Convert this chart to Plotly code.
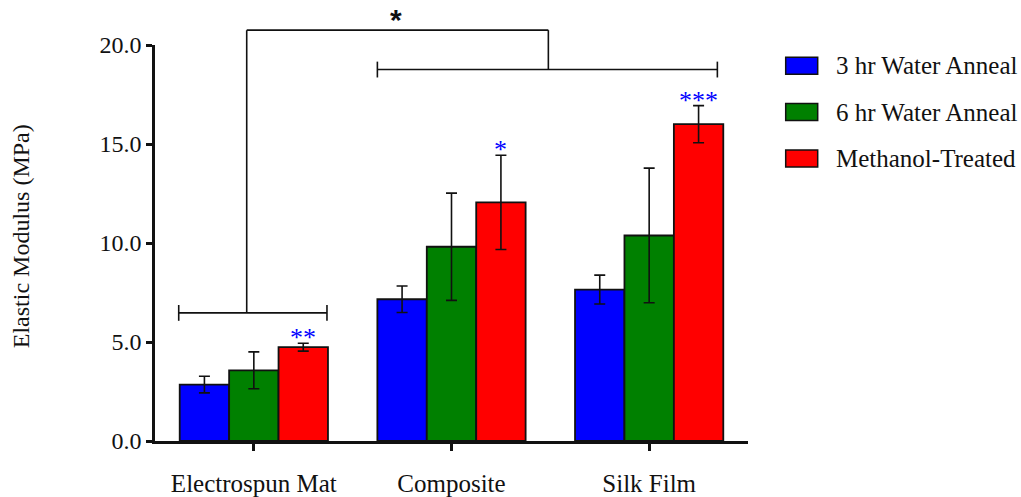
import plotly.graph_objects as go

categories = ["Electrospun Mat", "Composite", "Silk Film"]
series_names = ["3 hr Water Anneal", "6 hr Water Anneal", "Methanol-Treated"]
series_colors = ["#0000ff", "#008000", "#ff0000"]
water3_vals = [2.85, 7.16, 7.65]
water3_err = [0.42, 0.67, 0.73]
water6_vals = [3.57, 9.81, 10.38]
water6_err = [0.93, 2.71, 3.40]
methanol_vals = [4.74, 12.05, 16.0]
methanol_err = [0.20, 2.38, 0.94]
sig_labels = ["**", "*", "***"]
y_ticks = [0.0, 5.0, 10.0, 15.0, 20.0]

values = [water3_vals, water6_vals, methanol_vals]
errors = [water3_err, water6_err, methanol_err]

FONT = "Liberation Serif"
X_RANGE = [-0.5, 2.5]
Y_RANGE = [0, 20]

fig = go.Figure()
for name, color, vals, errs in zip(series_names, series_colors, values, errors):
    fig.add_trace(go.Bar(
        x=categories, y=vals, name=name,
        marker=dict(color=color, line=dict(color="#111111", width=1.8)),
        error_y=dict(type="data", array=errs, visible=True, color="#111111",
                     thickness=1.6, width=5.5),
        showlegend=False,
    ))

def xp(xd):
    return (xd - X_RANGE[0]) / (X_RANGE[1] - X_RANGE[0])

def yp(yd):
    return (yd - Y_RANGE[0]) / (Y_RANGE[1] - Y_RANGE[0])

def line(x0, y0, x1, y1, w=1.6):
    fig.add_shape(type="line", xref="paper", yref="paper",
                  x0=xp(x0), y0=yp(y0), x1=xp(x1), y1=yp(y1),
                  line=dict(color="#111111", width=w))

# significance brackets (data coords)
ya, yb, ytop = 6.47, 18.76, 20.75
tick_h = 0.4
line(-0.38, ya, 0.37, ya)
line(-0.38, ya - tick_h, -0.38, ya + tick_h)
line(0.37, ya - tick_h, 0.37, ya + tick_h)
line(0.625, yb, 2.345, yb)
line(0.625, yb - tick_h, 0.625, yb + tick_h)
line(2.345, yb - tick_h, 2.345, yb + tick_h)
line(-0.036, ya, -0.036, ytop)
line(1.49, yb, 1.49, ytop)
line(-0.036, ytop, 1.49, ytop)

fig.add_annotation(x=xp(0.72), y=yp(21.3), xref="paper", yref="paper", text="<b>*</b>",
                   showarrow=False, xanchor="center", yanchor="middle",
                   font=dict(family="Liberation Sans", size=30, color="#111111"))

# blue significance stars above methanol bars
bar_offset = 0.25
for i, (lab, v, e) in enumerate(zip(sig_labels, methanol_vals, methanol_err)):
    fig.add_annotation(x=i + bar_offset, y=v + e, xref="x", yref="y", text=lab,
                       showarrow=False, yanchor="bottom", yshift=-11,
                       font=dict(family=FONT, size=26, color="#0000ff"))

# custom legend
for k, (name, color) in enumerate(zip(series_names, series_colors)):
    cy = 65.7 + k * 46.3
    fig.add_shape(type="rect", xref="paper", yref="paper",
                  x0=(785.7 - 155) / 593, x1=(817.7 - 155) / 593,
                  y0=(440.7 - (cy - 8.5)) / 395.7, y1=(440.7 - (cy + 8.5)) / 395.7,
                  fillcolor=color, line=dict(color="#111111", width=1.5))
    fig.add_annotation(xref="paper", yref="paper", x=(834 - 155) / 593,
                       y=(440.7 - cy) / 395.7, text=name, showarrow=False,
                       xanchor="left", yanchor="middle",
                       font=dict(family=FONT, size=25, color="#111111"))

# y-axis title
fig.add_annotation(xref="paper", yref="paper", x=(21 - 155) / 593, y=0.517,
                   text="Elastic Modulus (MPa)", textangle=-90, showarrow=False,
                   xanchor="center", yanchor="middle",
                   font=dict(family=FONT, size=24, color="#111111"))

fig.update_layout(
    width=1021, height=497,
    margin=dict(l=155, r=273, t=45, b=56, autoexpand=False),
    plot_bgcolor="white", paper_bgcolor="white",
    barmode="group", bargap=0.25, bargroupgap=0,
    font=dict(family=FONT, size=25, color="#111111"),
    xaxis=dict(range=X_RANGE, showline=True, linecolor="#111111", linewidth=2.5,
               ticks="outside", ticklen=7, tickwidth=2.5, tickcolor="#111111",
               showgrid=False, zeroline=False, ticklabelstandoff=11, automargin=False,
               tickfont=dict(family=FONT, size=25, color="#111111")),
    yaxis=dict(range=Y_RANGE, showline=True, linecolor="#111111", linewidth=2.5,
               ticks="outside", ticklen=6, tickwidth=2.5, tickcolor="#111111",
               tickvals=y_ticks, ticktext=[f"{t:.1f}" for t in y_ticks],
               showgrid=False, zeroline=False, automargin=False,
               tickfont=dict(family=FONT, size=24, color="#111111")),
)

fig.write_html("out.html")
